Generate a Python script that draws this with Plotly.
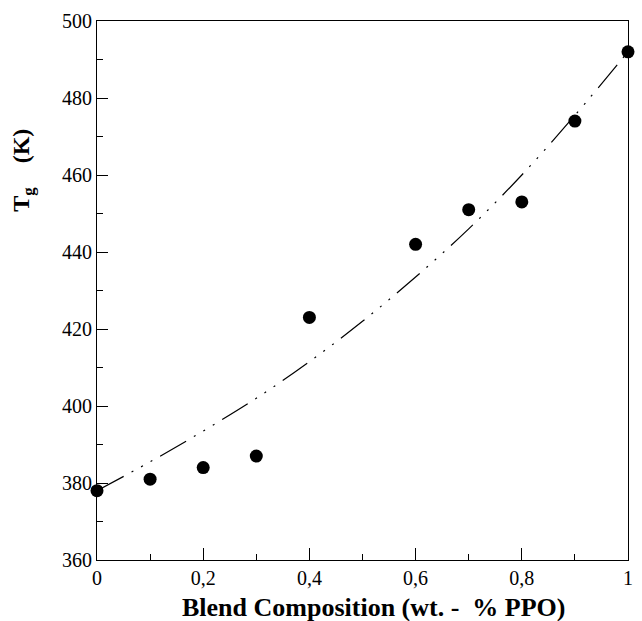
import plotly.graph_objects as go

# Data points (blend composition, Tg in K)
comp = [0.0, 0.1, 0.2, 0.3, 0.4, 0.6, 0.7, 0.8, 0.9, 1.0]
tg = [378, 381, 384, 387, 423, 442, 451, 453, 474, 492]

# Fitted curve
fit_x = [0.0, 0.1, 0.2, 0.3, 0.4, 0.5, 0.6, 0.7, 0.8, 0.9, 1.0]
fit_y = [378, 385.5, 393.5, 402, 411.5, 422, 433.5, 446, 460, 475.5, 492]

x_tickvals = [0, 0.2, 0.4, 0.6, 0.8, 1.0]
x_ticktext = ["0", "0,2", "0,4", "0,6", "0,8", "1"]
y_tickvals = [360, 380, 400, 420, 440, 460, 480, 500]

FONT = "'Times New Roman', 'Liberation Serif', 'DejaVu Serif', Times, serif"

fig = go.Figure()
fig.add_trace(go.Scatter(
    x=fit_x, y=fit_y, mode="lines", line_shape="spline",
    line=dict(color="black", width=1.2, dash="30px,9px,2px,9px,2px,9px,2px,9px"),
    hoverinfo="skip", showlegend=False))
fig.add_trace(go.Scatter(
    x=comp, y=tg, mode="markers", cliponaxis=False,
    marker=dict(color="black", size=13, line=dict(width=0)),
    showlegend=False))

fig.update_layout(
    width=642, height=621,
    margin=dict(l=97, r=9, t=21, b=61),
    paper_bgcolor="white", plot_bgcolor="white",
    font=dict(family=FONT, color="black", size=20),
    xaxis=dict(range=[0, 1], tickvals=x_tickvals, ticktext=x_ticktext,
               ticks="inside", ticklen=12, tickwidth=1, tickcolor="black",
               minor=dict(ticks="inside", ticklen=6, dtick=0.1, tickcolor="black", tickwidth=1),
               showline=True, linecolor="black", linewidth=1.2, mirror=True,
               showgrid=False, zeroline=False,
               tickfont=dict(family=FONT, size=20, color="black")),
    yaxis=dict(range=[360, 500], tickvals=y_tickvals,
               ticks="inside", ticklen=11, tickwidth=1, tickcolor="black",
               minor=dict(ticks="inside", ticklen=6, dtick=10, tickcolor="black", tickwidth=1),
               showline=True, linecolor="black", linewidth=1.2, mirror=True,
               showgrid=False, zeroline=False,
               tickfont=dict(family=FONT, size=20, color="black")),
    annotations=[
        dict(text="<b>Blend Composition (wt. -\u00a0\u00a0% PPO)</b>",
             xref="paper", yref="paper", x=(377 - 97) / 536, y=(560 - 607) / 539,
             xanchor="center", yanchor="middle", showarrow=False,
             font=dict(family=FONT, size=26, color="black")),
        dict(text="<b>T<sub>g</sub>\u00a0\u00a0\u00a0\u00a0(K)</b>",
             xref="paper", yref="paper", x=(22 - 97) / 536, y=(560 - 170) / 539,
             xanchor="center", yanchor="middle", textangle=-90, showarrow=False,
             font=dict(family=FONT, size=24, color="black")),
    ],
)

fig.write_html("out.html")
